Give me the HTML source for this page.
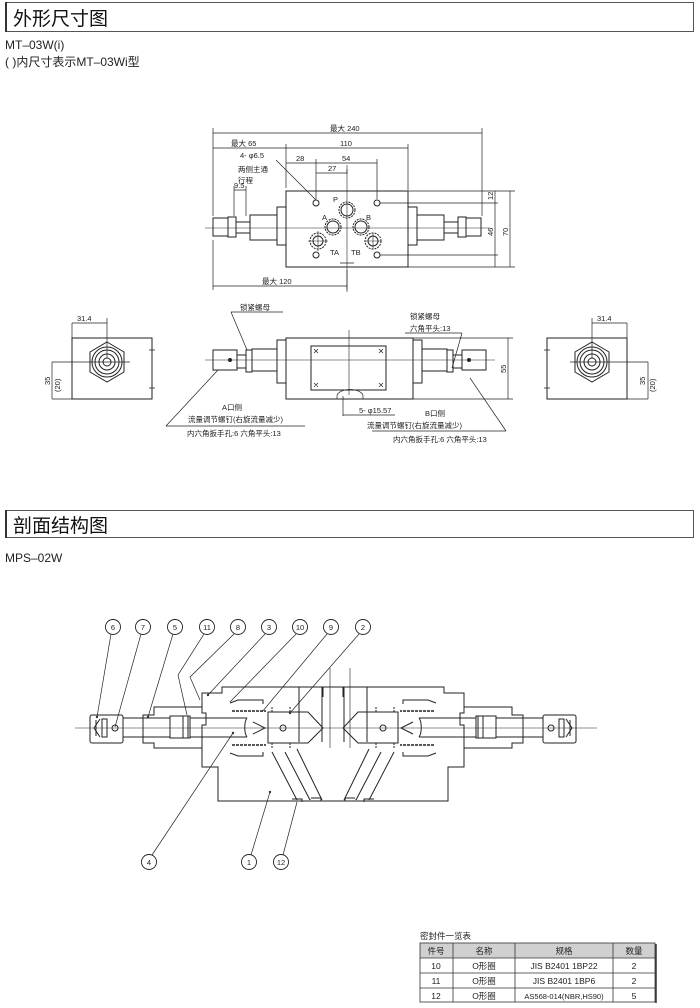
<!DOCTYPE html>
<html><head><meta charset="utf-8"><style>
body{margin:0;background:#fff;width:700px;height:1008px;overflow:hidden;font-family:"Liberation Sans","Noto Sans CJK SC",sans-serif}
svg{position:absolute;left:0;top:0}
</style></head><body>
<svg width="700" height="1008" viewBox="0 0 700 1008" xmlns="http://www.w3.org/2000/svg" font-family="Liberation Sans, Noto Sans CJK SC, sans-serif">
<rect x="5.5" y="2.5" width="688" height="29" fill="#fff" stroke="#555" stroke-width="1"/>
<line x1="6" y1="2" x2="6" y2="32" stroke="#333" stroke-width="2"/>
<text x="13" y="25" font-size="19" fill="#111">外形尺寸图</text>
<text x="5" y="49" font-size="12" fill="#222">MT–03W(i)</text>
<text x="5" y="66" font-size="12" fill="#222">( )内尺寸表示MT–03Wi型</text>
<rect x="5.5" y="510.5" width="688" height="27" fill="#fff" stroke="#555" stroke-width="1"/>
<line x1="6" y1="510" x2="6" y2="538" stroke="#333" stroke-width="2"/>
<text x="13" y="532" font-size="19" fill="#111">剖面结构图</text>
<text x="5" y="562" font-size="12" fill="#222">MPS–02W</text>

<g fill="none" stroke="#222" stroke-width="1">
<rect x="286" y="191" width="122" height="76"/>
<g id="tl">
<rect x="277" y="207" width="9" height="38"/>
<rect x="250" y="215" width="27" height="25"/>
<rect x="236" y="222" width="14" height="11"/>
<rect x="228" y="217" width="8" height="20"/>
<rect x="213" y="218" width="15" height="18"/>
</g>
<use href="#tl" transform="translate(694,0) scale(-1,1)"/>
<line x1="205" y1="228" x2="490" y2="228" stroke-width="0.6"/>
<line x1="347" y1="165" x2="347" y2="292" stroke-width="0.6"/>
<circle cx="316" cy="203" r="3"/><circle cx="377" cy="203" r="3"/>
<circle cx="316" cy="255" r="3"/><circle cx="377" cy="255" r="3"/>
<circle cx="347" cy="210" r="6"/><circle cx="347" cy="210" r="8" stroke-dasharray="2 1"/>
<circle cx="333" cy="227" r="6"/><circle cx="333" cy="227" r="8" stroke-dasharray="2 1"/>
<circle cx="361" cy="227" r="6"/><circle cx="361" cy="227" r="8" stroke-dasharray="2 1"/>
<circle cx="318" cy="241" r="5"/><circle cx="318" cy="241" r="8" stroke-dasharray="2 1"/>
<circle cx="373" cy="241" r="5"/><circle cx="373" cy="241" r="8" stroke-dasharray="2 1"/>
<path d="M308 241h20M318 231v20M365 241h16M373 233v16" stroke-width="0.6"/>
<path d="M213 133h269M213 128v88M482 128v88M213 148h195M286 144v44M408 144v46M286 163h91M316 159v40M377 159v40M316 173h31M347 169v5" stroke-width="0.7"/>
<path d="M213 286h134M213 240v50M347 270v20M340 263h14" stroke-width="0.7"/>
<path d="M380 203h118M380 255h118M408 267h107M495 191v76M510 191v76M408 191h107" stroke-width="0.7"/>
<path d="M234 190h12M234 186v30M246 186v30" stroke-width="0.7"/>
<path d="M276 160l40 40" stroke-width="0.7"/>
<rect x="72" y="338" width="80" height="61"/>
<polygon points="107,342 124,352 124,372 107,382 90,372 90,352"/>
<circle cx="107" cy="362" r="15"/><circle cx="107" cy="362" r="12"/><circle cx="107" cy="362" r="8"/><circle cx="107" cy="362" r="4"/>
<path d="M52 362h78M107 318v40M72 323v15M72 323h35M52 362v37M52 399h20M152 345v48M149 350h6M149 388h6" stroke-width="0.7"/>
<rect x="547" y="338" width="80" height="61"/>
<polygon points="592,342 609,352 609,372 592,382 575,372 575,352"/>
<circle cx="592" cy="362" r="15"/><circle cx="592" cy="362" r="12"/><circle cx="592" cy="362" r="8"/><circle cx="592" cy="362" r="4"/>
<path d="M570 362h78M592 318v40M627 323v15M592 323h35M648 362v37M627 399h21M547 345v48M544 350h6M544 388h6" stroke-width="0.7"/>
<rect x="286" y="338" width="127" height="61"/>
<rect x="311" y="346" width="75" height="44"/>
<path d="M314 349l4 4M318 349l-4 4M379 349l4 4M383 349l-4 4M314 383l4 4M318 383l-4 4M379 383l4 4M383 383l-4 4" stroke-width="0.7"/>
<line x1="349" y1="330" x2="349" y2="395" stroke-width="0.6"/>
<g id="fl">
<rect x="277" y="340" width="9" height="43"/>
<rect x="252" y="349" width="25" height="22"/>
<rect x="246" y="350" width="6" height="22"/>
<rect x="237" y="355" width="9" height="13"/>
<rect x="213" y="350" width="24" height="20"/>
<circle cx="230" cy="360" r="1.5" fill="#333"/>
</g>
<use href="#fl" transform="translate(699,0) scale(-1,1)"/>
<line x1="205" y1="360" x2="495" y2="360" stroke-width="0.6"/>
<path d="M337 399v-3a12 6 0 0 1 26 0v3M343 396v20M343 415h52" stroke-width="0.7"/>
<path d="M413 338h100M413 399h100M508 338v61" stroke-width="0.7"/>
<path d="M231 312h52M231 312l16 38M166 426h139M166 426l52 -56" stroke-width="0.7"/>
<path d="M405 333h57M462 333l-10 35M372 431h134M506 431l-36 -53" stroke-width="0.7"/>

<g id="sec">
<path d="M333 687H222v6h-20v20h4v12h-4v42h16v34h115"/>
<path d="M202 707h-48v8h-11v28h11v5h48"/>
<rect x="90" y="715" width="33" height="28" rx="2"/>
<path d="M96 720v16M100 719l-6 9 6 9"/>
<rect x="102" y="719" width="5" height="18"/>
<circle cx="115" cy="728" r="3"/>
<path d="M123 718h47v19h-47M170 716h20v22h-20z"/>
<rect x="183" y="716" width="5" height="22"/>
<path d="M190 718h57M190 737h57"/>
<path d="M247 718c-3 4-3 15 0 19"/>
<path d="M268 712h40l15 16-15 15h-40z"/>
<path d="M253 722l12 6-12 6" />
<circle cx="283" cy="728" r="3"/>
<path d="M272 712v-5M290 712v-5M272 743v6M290 743v6" stroke-dasharray="2 1"/>
<path d="M230 703l8-3h25v4M230 753l8 3h25v-4" />
<path d="M232 711h34M232 745h34" stroke-dasharray="3 1" stroke-width="1.4"/>
<path d="M299 687v55M322 687v55M343 687v10"/>
<path d="M272 752l25 48M285 752l25 48M297 749l25 51M310 800v-1"/>
<path d="M293 801h10M292 799h10v3M311 798h10v3"/>
</g>
<use href="#sec" transform="translate(666,0) scale(-1,1)"/>
<line x1="75" y1="728" x2="597" y2="728" stroke-width="0.6"/>
<path d="M330 668v80M350 668v80" stroke-width="0.6"/>
<path d="M111 634L97 717M141 634L115 727M173 634L148 717M204 634L178 675L187 715M234 634L190 677L200 700M265 634L208 695M296 634L230 702M327 634L262 712M359 634L290 713" stroke-width="0.7"/>
<path d="M152 855L233 733M251 855L270 792M283 855L297 802" stroke-width="0.7"/>
</g>
<g fill="#333"><circle cx="97" cy="717" r="1.2"/><circle cx="148" cy="717" r="1.2"/><circle cx="208" cy="695" r="1.2"/><circle cx="233" cy="733" r="1.2"/><circle cx="270" cy="792" r="1.2"/><circle cx="290" cy="713" r="1.2"/></g>
<g fill="#fff" stroke="#222" stroke-width="0.9">
<circle cx="113" cy="627" r="7.5"/><circle cx="143" cy="627" r="7.5"/><circle cx="175" cy="627" r="7.5"/><circle cx="207" cy="627" r="7.5"/><circle cx="238" cy="627" r="7.5"/><circle cx="269" cy="627" r="7.5"/><circle cx="300" cy="627" r="7.5"/><circle cx="331" cy="627" r="7.5"/><circle cx="363" cy="627" r="7.5"/>
<circle cx="149" cy="862" r="7.5"/><circle cx="249" cy="862" r="7.5"/><circle cx="281" cy="862" r="7.5"/>
</g>
<g font-size="7.5" fill="#222" text-anchor="middle">
<text x="113" y="630">6</text><text x="143" y="630">7</text><text x="175" y="630">5</text><text x="207" y="630">11</text><text x="238" y="630">8</text><text x="269" y="630">3</text><text x="300" y="630">10</text><text x="331" y="630">9</text><text x="363" y="630">2</text>
<text x="149" y="865">4</text><text x="249" y="865">1</text><text x="281" y="865">12</text>
</g>

<g font-size="7.5" fill="#222">
<text x="330" y="131">最大  240</text>
<text x="231" y="146">最大  65</text>
<text x="340" y="146">110</text>
<text x="296" y="161">28</text><text x="342" y="161">54</text><text x="328" y="171">27</text>
<text x="240" y="158">4- φ6.5</text>
<text x="238" y="172">两侧主通</text><text x="238" y="183">行程</text>
<text x="234" y="188">9.5</text>
<text x="262" y="284">最大  120</text>
<text x="333" y="202">P</text><text x="322" y="220">A</text><text x="366" y="220">B</text>
<text x="330" y="255">TA</text><text x="351" y="255">TB</text>
<text x="77" y="321">31.4</text><text x="597" y="321">31.4</text>
<text x="240" y="310">锁紧螺母</text>
<text x="410" y="319">锁紧螺母</text><text x="410" y="331">六角平头:13</text>
<text x="222" y="410">A口侧</text>
<text x="188" y="422">流量调节螺钉(右旋流量减少)</text>
<text x="187" y="436">内六角扳手孔:6 六角平头:13</text>
<text x="425" y="416">B口侧</text>
<text x="367" y="428">流量调节螺钉(右旋流量减少)</text>
<text x="393" y="442">内六角扳手孔:6 六角平头:13</text>
<text x="359" y="413">5- φ15.57</text>
</g>
<g font-size="7.5" fill="#222">
<text transform="translate(493,200) rotate(-90)">12</text>
<text transform="translate(493,236) rotate(-90)">46</text>
<text transform="translate(508,236) rotate(-90)">70</text>
<text transform="translate(506,373) rotate(-90)">55</text>
<text transform="translate(50,385) rotate(-90)">35</text>
<text transform="translate(60,392) rotate(-90)">(20)</text>
<text transform="translate(645,385) rotate(-90)">35</text>
<text transform="translate(655,392) rotate(-90)">(20)</text>
</g>

<text x="420" y="939" font-size="8.5" fill="#222">密封件一览表</text>
<rect x="420" y="943" width="235" height="15" fill="#d0d0d0"/>
<g stroke="#333" stroke-width="0.8" fill="none">
<rect x="420" y="943" width="235" height="59"/>
<path d="M420 958h235M420 973h235M420 988h235M453 943v59M515 943v59M613 943v59"/>
</g>
<line x1="656" y1="944" x2="656" y2="1003" stroke="#333" stroke-width="1.5"/>
<g font-size="8.5" fill="#222" text-anchor="middle">
<text x="436" y="954">件号</text><text x="484" y="954">名称</text><text x="564" y="954">规格</text><text x="634" y="954">数量</text>
<text x="436" y="969">10</text><text x="484" y="969">O形圈</text><text x="564" y="969">JIS B2401 1BP22</text><text x="634" y="969">2</text>
<text x="436" y="984">11</text><text x="484" y="984">O形圈</text><text x="564" y="984">JIS B2401 1BP6</text><text x="634" y="984">2</text>
<text x="436" y="999">12</text><text x="484" y="999">O形圈</text><text x="564" y="999" font-size="7.5">AS568-014(NBR,HS90)</text><text x="634" y="999">5</text>
</g>
</svg>
</body></html>
